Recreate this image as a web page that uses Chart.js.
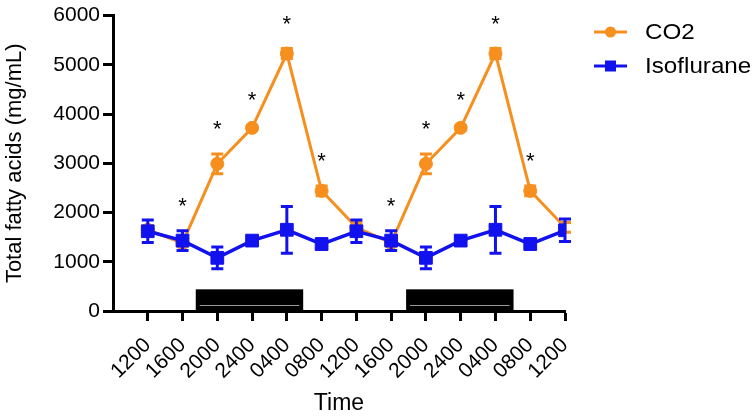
<!DOCTYPE html>
<html>
<head>
<meta charset="utf-8">
<script src="https://cdn.jsdelivr.net/npm/chart.js@4.4.0/dist/chart.umd.min.js"></script>
<style>
  html, body { margin: 0; padding: 0; background: #fff; }
</style>
</head>
<body>
<canvas id="chart" width="754" height="417"></canvas>
<script>
// values
const timeLabels = ['1200', '1600', '2000', '2400', '0400', '0800', '1200', '1600', '2000', '2400', '0400', '0800', '1200'];
const co2Mean = [1650, 1380, 2990, 3720, 5230, 2440, 1700, 1380, 2990, 3720, 5230, 2440, 1700];
const co2Err = [80, 60, 200, 50, 100, 100, 100, 60, 200, 50, 100, 100, 100];
const isoMean = [1620, 1430, 1080, 1430, 1650, 1360, 1620, 1430, 1080, 1430, 1650, 1360, 1640];
const isoErr = [230, 200, 220, 50, 475, 100, 230, 200, 220, 50, 475, 100, 230];
const sigIndex = [1, 2, 3, 4, 5, 7, 8, 9, 10, 11];
// dark period bars, in x index units
const darkStart = [1.38, 7.43];
const darkEnd = [4.47, 10.52];
const darkTop = 440;

const ORANGE = '#F78F1E';
const BLUE = '#1212EE';
const FONT = "Arial, 'Liberation Sans', sans-serif";

const toPoints = (arr) => arr.map((v, i) => ({ x: i, y: v }));

const darkBars = {
    id: 'darkBars',
    beforeDatasetsDraw(chart) {
        const { ctx, scales: { x, y } } = chart;
        ctx.save();
        for (let i = 0; i < darkStart.length; i++) {
            const x0 = x.getPixelForValue(darkStart[i]);
            const x1 = x.getPixelForValue(darkEnd[i]);
            const y0 = y.getPixelForValue(darkTop);
            const y1 = y.getPixelForValue(0);
            ctx.fillStyle = '#000';
            ctx.fillRect(x0, y0, x1 - x0, y1 - y0);
            ctx.strokeStyle = '#9a9a9a';
            ctx.lineWidth = 1;
            ctx.beginPath();
            const ly = Math.round(y.getPixelForValue(120)) + 0.5;
            ctx.moveTo(x0 + 4, ly);
            ctx.lineTo(x1 - 4, ly);
            ctx.stroke();
        }
        ctx.restore();
    }
};

const errorBars = {
    id: 'errorBars',
    afterDatasetDraw(chart, args) {
        const ds = chart.data.datasets[args.index];
        if (!ds.errors) return;
        const { ctx, scales: { y } } = chart;
        ctx.save();
        ctx.strokeStyle = ds.borderColor;
        ctx.lineWidth = 3;
        args.meta.data.forEach((pt, i) => {
            const v = ds.data[i].y;
            const e = ds.errors[i];
            const top = y.getPixelForValue(v + e);
            const bot = y.getPixelForValue(v - e);
            ctx.beginPath();
            ctx.moveTo(pt.x, top);
            ctx.lineTo(pt.x, bot);
            ctx.moveTo(pt.x - 6, top);
            ctx.lineTo(pt.x + 6, top);
            ctx.moveTo(pt.x - 6, bot);
            ctx.lineTo(pt.x + 6, bot);
            ctx.stroke();
        });
        ctx.restore();
    }
};

const stars = {
    id: 'stars',
    afterDatasetsDraw(chart) {
        const { ctx, scales: { x, y } } = chart;
        ctx.save();
        ctx.fillStyle = '#000';
        ctx.font = '22px ' + FONT;
        ctx.textAlign = 'center';
        ctx.textBaseline = 'alphabetic';
        sigIndex.forEach((i) => {
            const top = Math.max(co2Mean[i] + co2Err[i], isoMean[i] + isoErr[i]);
            ctx.fillText('*', x.getPixelForValue(i), y.getPixelForValue(top) - 18);
        });
        ctx.restore();
    }
};

const sideLegend = {
    id: 'sideLegend',
    afterDraw(chart) {
        const { ctx } = chart;
        const rows = [
            { text: 'CO2', color: ORANGE, style: 'circle', y: 32 },
            { text: 'Isoflurane', color: BLUE, style: 'rect', y: 66 }
        ];
        ctx.save();
        rows.forEach((r) => {
            ctx.strokeStyle = r.color;
            ctx.fillStyle = r.color;
            ctx.lineWidth = 3;
            ctx.beginPath();
            ctx.moveTo(594, r.y);
            ctx.lineTo(627, r.y);
            ctx.stroke();
            if (r.style === 'circle') {
                ctx.beginPath();
                ctx.arc(610.5, r.y, 5.5, 0, Math.PI * 2);
                ctx.fill();
            } else {
                ctx.fillRect(605, r.y - 5.5, 11, 11);
            }
            ctx.fillStyle = '#000';
            ctx.font = '22px ' + FONT;
            ctx.textBaseline = 'middle';
            ctx.save();
            ctx.translate(645, r.y + 1);
            ctx.scale(1.1, 1);
            ctx.fillText(r.text, 0, 0);
            ctx.restore();
        });
        ctx.restore();
    }
};

const ctx = document.getElementById('chart');
new Chart(ctx, {
    type: 'line',
    data: {
        datasets: [
            {
                label: 'CO2',
                data: toPoints(co2Mean),
                errors: co2Err,
                borderColor: ORANGE,
                backgroundColor: ORANGE,
                pointBorderColor: ORANGE,
                borderWidth: 3,
                pointStyle: 'circle',
                pointRadius: 6.5,
                pointBorderWidth: 1,
                order: 2
            },
            {
                label: 'Isoflurane',
                data: toPoints(isoMean),
                errors: isoErr,
                borderColor: BLUE,
                backgroundColor: BLUE,
                pointBorderColor: BLUE,
                borderWidth: 3.5,
                pointStyle: 'rect',
                pointRadius: 9,
                pointBorderWidth: 1,
                order: 1
            }
        ]
    },
    options: {
        responsive: false,
        animation: false,
        devicePixelRatio: 1,
        layout: { padding: { top: 10, right: 189, left: 0, bottom: 0 } },
        plugins: {
            legend: { display: false },
            tooltip: { enabled: false }
        },
        scales: {
            x: {
                type: 'linear',
                min: -1,
                max: 12,
                afterBuildTicks: (s) => { s.ticks = timeLabels.map((_, i) => ({ value: i })); },
                afterFit: (s) => { s.height = 106; },
                ticks: {
                    callback: (v) => timeLabels[v],
                    autoSkip: false,
                    minRotation: 45,
                    maxRotation: 45,
                    padding: 12,
                    color: '#000',
                    font: { family: FONT, size: 21 }
                },
                grid: { drawOnChartArea: false, tickLength: 10, tickWidth: 3, tickColor: '#000' },
                border: { color: '#000', width: 3 },
                title: {
                    display: true,
                    text: 'Time',
                    color: '#000',
                    padding: 0,
                    font: { family: FONT, size: 23 }
                }
            },
            y: {
                min: 0,
                max: 6000,
                afterFit: (s) => { s.width = 113; },
                ticks: {
                    stepSize: 1000,
                    padding: 3,
                    color: '#000',
                    callback: (v) => String(v),
                    font: { family: FONT, size: 21 }
                },
                grid: { drawOnChartArea: false, tickLength: 10, tickWidth: 3, tickColor: '#000' },
                border: { color: '#000', width: 3 },
                title: {
                    display: true,
                    text: 'Total fatty acids (mg/mL)',
                    color: '#000',
                    padding: { top: 2, bottom: 0 },
                    font: { family: FONT, size: 22 }
                }
            }
        }
    },
    plugins: [darkBars, errorBars, stars, sideLegend]
});
</script>
</body>
</html>
